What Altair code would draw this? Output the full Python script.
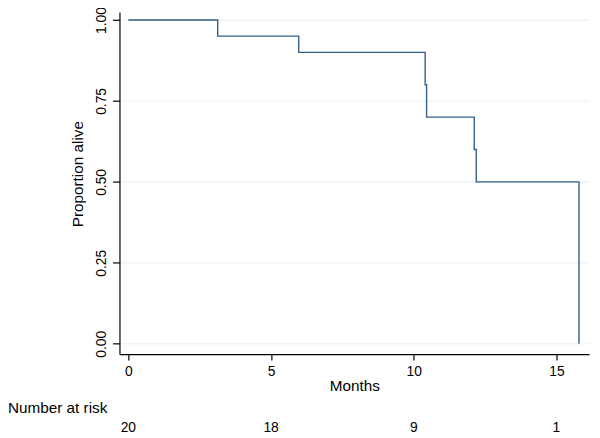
import altair as alt
import pandas as pd

# Kaplan-Meier step points
times = [0, 3.13, 5.97, 10.40, 10.45, 12.12, 12.19, 15.79]
survival = [1.0, 0.95, 0.90, 0.80, 0.70, 0.60, 0.50, 0.0]

# Number-at-risk table
risk_times = [0, 5, 10, 15]
at_risk = [20, 18, 9, 1]

x_ticks = [0, 5, 10, 15]
y_ticks = [0, 0.25, 0.5, 0.75, 1.0]

km = pd.DataFrame({"t": times, "s": survival})
risk = pd.DataFrame({"t": risk_times, "n": [str(v) for v in at_risk]})
risk_label = pd.DataFrame({"label": ["Number at risk"]})

FONT = "Liberation Sans"
W, H = 476, 347

x_scale = alt.Scale(domain=[-0.311, 16.142], nice=False, zero=False)
y_scale = alt.Scale(domain=[-0.032, 1.025], nice=False, zero=False)

x_enc = alt.X(
    "t:Q",
    scale=x_scale,
    axis=alt.Axis(
        values=x_ticks, format="d", title="Months", grid=False,
        tickSize=6, labelPadding=5, labelFontSize=14,
        titleFontSize=15.5, titleFontWeight="normal",
        titleBaseline="alphabetic", titleY=37,
    ),
)

line = alt.Chart(km).mark_line(
    interpolate="step-after", color="#335f88", strokeWidth=1.4
).encode(
    x=x_enc,
    y=alt.Y(
        "s:Q",
        scale=y_scale,
        axis=alt.Axis(
            values=y_ticks, format=".2f", title="Proportion alive", grid=True,
            gridColor="#e8eff1", gridWidth=1,
            tickSize=7, labelAngle=270, labelAlign="center",
            labelBaseline="alphabetic", labelPadding=7, labelFontSize=14,
            titleFontSize=15.5, titleFontWeight="normal", titleAngle=270,
            titleAlign="center", titleBaseline="alphabetic",
            titleX=-37, titleY=164,
        ),
    ),
)

numbers = alt.Chart(risk).mark_text(
    font=FONT, fontSize=14, color="#000000", align="center", baseline="alphabetic"
).encode(
    x=x_enc,
    y=alt.value(426),
    text="n:N",
)

label = alt.Chart(risk_label).mark_text(
    font=FONT, fontSize=15.5, color="#000000", align="left", baseline="alphabetic"
).encode(
    x=alt.value(-113),
    y=alt.value(407),
    text="label:N",
)

chart = alt.layer(line, numbers, label).properties(
    width=W,
    height=H,
    padding={"left": 113, "top": 1, "right": 3, "bottom": 82},
    autosize="none",
).configure_view(
    stroke=None
).configure_axis(
    domainColor="#000000", domainWidth=1.2, tickColor="#000000", tickWidth=1.2,
    labelColor="#000000", titleColor="#000000",
    labelFont=FONT, titleFont=FONT,
)

chart.save("out.html", embed_options={"renderer": "svg", "actions": False})
